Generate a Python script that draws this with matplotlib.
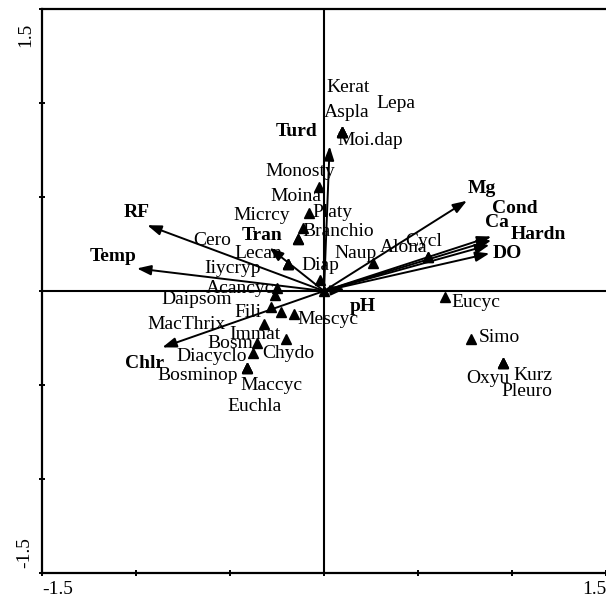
import matplotlib
matplotlib.use("Agg")
import matplotlib.pyplot as plt

plt.rcParams["font.family"] = ["Liberation Serif", "DejaVu Serif"]

# Environmental variables: biplot arrow tips and label positions
env_names = ["RF", "Temp", "Chlr", "Tran", "Turd", "Mg", "Cond", "Ca", "Hardn", "DO", "pH"]
env_x = [-0.94, -0.995, -0.86, -0.29, 0.03, 0.76, 0.89, 0.89, 0.88, 0.88, 0.11]
env_y = [0.35, 0.12, -0.30, 0.23, 0.77, 0.48, 0.29, 0.27, 0.245, 0.20, 0.01]
env_lab_x = [-0.995, -1.122, -0.952, -0.330, -0.144, 0.840, 1.016, 0.920, 1.138, 0.973, 0.207]
env_lab_y = [0.420, 0.181, -0.383, 0.293, 0.846, 0.543, 0.441, 0.362, 0.298, 0.202, -0.085]

# Species scores (triangles)
sp_names = ["Kerat", "Aspla", "Lepa", "Moi.dap", "Monosty", "Moina", "Micrcy", "Platy",
            "Branchio", "Cero", "Lecan", "Iiycryp", "Diap", "", "Naup", "Alona", "Cycl",
            "Acancyc", "Daipsom", "Fili", "Mescyc", "MacThrix", "Immat", "Bosm", "Chydo",
            "Diacyclo", "Bosminop", "Maccyc", "Euchla", "Eucyc", "Simo", "Kurz", "Oxyu",
            "Pleuro"]
sp_x = [0.096, 0.096, 0.096, 0.096, -0.027, -0.138, -0.138, -0.080,
        -0.112, -0.191, -0.191, -0.191, -0.021, 0.0, 0.261, 0.553, 0.553,
        -0.250, -0.261, -0.282, -0.160, -0.319, -0.229, -0.356, -0.202,
        -0.378, -0.410, -0.410, -0.410, 0.644, 0.782, 0.952, 0.952,
        0.952]
sp_y = [0.846, 0.846, 0.846, 0.846, 0.553, 0.277, 0.277, 0.415,
        0.335, 0.144, 0.144, 0.144, 0.059, 0.0, 0.149, 0.181, 0.181,
        0.016, -0.021, -0.085, -0.122, -0.176, -0.112, -0.277, -0.255,
        -0.330, -0.410, -0.410, -0.410, -0.032, -0.255, -0.383, -0.383,
        -0.383]
sp_lab_x = [0.128, 0.122, 0.383, 0.245, -0.128, -0.149, -0.330, 0.043,
            0.074, -0.596, -0.351, -0.489, -0.021, 0.0, 0.165, 0.426, 0.532,
            -0.447, -0.676, -0.404, 0.021, -0.729, -0.367, -0.500, -0.191,
            -0.596, -0.670, -0.277, -0.367, 0.809, 0.931, 1.112, 0.872,
            1.080]
sp_lab_y = [1.080, 0.952, 1.000, 0.798, 0.633, 0.505, 0.399, 0.415,
            0.314, 0.266, 0.197, 0.122, 0.133, 0.0, 0.197, 0.229, 0.261,
            0.011, -0.043, -0.112, -0.154, -0.176, -0.229, -0.277, -0.330,
            -0.351, -0.447, -0.505, -0.617, -0.059, -0.250, -0.447, -0.463,
            -0.537]

FS = 14

fig = plt.figure(figsize=(6.06, 6.03), dpi=100)
ax = fig.add_axes([42 / 606, 30 / 603, 564 / 606, 564 / 603])
ax.set_xlim(-1.5, 1.5)
ax.set_ylim(-1.5, 1.5)

# Frame: left, top and bottom only
for side in ["left", "top", "bottom"]:
    ax.spines[side].set_linewidth(1.6)
ax.spines["right"].set_visible(False)

ticks = [-1.5, -1.0, -0.5, 0.0, 0.5, 1.0, 1.5]
ax.set_xticks(ticks)
ax.set_yticks(ticks)
ax.set_xticklabels([])
ax.set_yticklabels([])
ax.tick_params(direction="inout", length=5, width=1.4)

# Axis end labels
ax.text(-1.5, -1.54, "-1.5", ha="left", va="top", fontsize=FS, clip_on=False)
ax.text(1.44, -1.54, "1.5", ha="center", va="top", fontsize=FS, clip_on=False)
ax.text(-1.585, 1.365, "1.5", ha="center", va="center", rotation=90,
        fontsize=FS, clip_on=False)
ax.text(-1.59, -1.39, "-1.5", ha="center", va="center", rotation=90,
        fontsize=FS, clip_on=False)

# Zero lines
ax.axhline(0, color="black", lw=1.5, zorder=1)
ax.axvline(0, color="black", lw=1.5, zorder=1)

# Environmental arrows
for name, x, y, lx, ly in zip(env_names, env_x, env_y, env_lab_x, env_lab_y):
    ax.annotate("", xy=(x, y), xytext=(0, 0),
                arrowprops=dict(arrowstyle="-|>,head_length=0.7,head_width=0.25",
                                color="black", lw=1.4, mutation_scale=12,
                                shrinkA=0, shrinkB=0), zorder=3)
    ax.text(lx, ly, name, ha="center", va="center", fontsize=FS,
            fontweight="bold", zorder=4)

# Species triangles and labels
ax.plot(sp_x, sp_y, linestyle="none", marker="^", markersize=7.5,
        color="black", zorder=5)
for name, lx, ly in zip(sp_names, sp_lab_x, sp_lab_y):
    if name:
        ax.text(lx, ly, name, ha="center", va="center", fontsize=FS, zorder=4)

fig.savefig("out.png", dpi=100)
